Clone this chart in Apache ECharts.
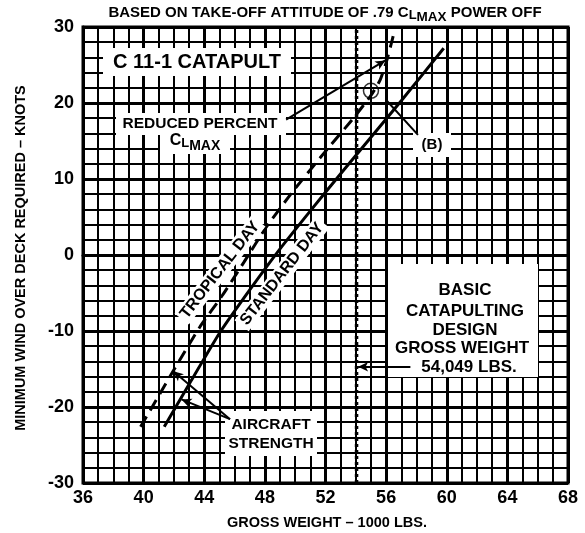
<!DOCTYPE html>
<html><head><meta charset="utf-8">
<script src="https://cdn.jsdelivr.net/npm/echarts/dist/echarts.min.js"></script>
<style>html,body{margin:0;padding:0;background:#fff}#c{width:585px;height:533px}</style>
</head><body><div id="c"></div>
<script>
// ---- data ----
const xTicks = [36, 40, 44, 48, 52, 56, 60, 64, 68];
const yTicks = [-30, -20, -10, 0, 10, 20, 30];
const tropicalDay = [[39.8,-22.6],[42,-15.1],[43.7,-9.5],[45.2,-5.3],[46.6,-1.0],[48.1,3.7],[49.9,8.5],[51.9,13.4],[53.8,17.9],[55.0,21.0],[55.6,23.0],[56.0,25.3],[56.3,27.5],[56.55,29.5]];
const standardDay = [[41.36,-22.6],[43,-17.0],[45,-10.3],[47,-4.6],[49,0.8],[51,5.8],[53,10.7],[55,15.5],[57,20.3],[59.8,27.2]];
const designGrossWeight = 54.049;
const pointB = [55.0, 21.6];
const reducedLeader = [[49.4,17.8],[55.95,25.6]];
const bLeader = [[58.1,15.8],[56.0,20.4]];
const strengthLeaderA = [[45.7,-21.6],[41.96,-15.3]];
const strengthLeaderB = [[45.7,-21.6],[42.5,-19.0]];
const designArrow = [[57.6,-14.7],[54.15,-14.7]];

const FF = '"Liberation Sans", Arial, sans-serif';
const cv = document.createElement('canvas').getContext('2d');
function tw(t, s){ cv.font = 'bold ' + s + 'px ' + FF; return cv.measureText(t).width; }
function txt(t, x, y, s, extra){
  return Object.assign({type:'text', x:x, y:y, z:5, style:{text:t, fontSize:s, fontWeight:'bold', fontFamily:FF, fill:'#000', align:'center', verticalAlign:'middle'}}, extra||{});
}
function run(pieces, cx, cy){
  const total = pieces.reduce((a,p)=>a+tw(p.t,p.s),0);
  let x = cx - total/2; const out = [];
  pieces.forEach(p=>{
    out.push({type:'text', x:x, y:cy+(p.dy||0), z:5, style:{text:p.t, fontSize:p.s, fontWeight:'bold', fontFamily:FF, fill:'#000', align:'left', verticalAlign:'middle'}});
    x += tw(p.t,p.s);
  });
  return out;
}
function rect(x,y,w,h){ return {type:'rect', z:1, shape:{x:x,y:y,width:w,height:h}, style:{fill:'#fff'}}; }
function pair(a, arrow){
  return [{coord:a[0], symbol:'none'},{coord:a[1], symbol: arrow ? 'arrow' : 'none'}];
}
function rotText(t, x, y, s, deg){
  return {type:'text', x:x, y:y, z:5, rotation: deg*Math.PI/180,
    style:{text:t, fontSize:s, fontWeight:'bold', fontFamily:FF, fill:'#000', align:'center', verticalAlign:'middle', backgroundColor:'#fff', padding:[1,3]}};
}

const chart = echarts.init(document.getElementById('c'), null, {renderer:'canvas'});
const graphics = [
  rect(103,48,188,28),
  rect(116,113,170,22),
  rect(160,132,70,22),
  rect(388,264,150,113),
  rect(413,133,38,24),
  rect(225,411,92,45),
  txt('C 11-1 CATAPULT', 197, 62, 20),
  txt('REDUCED PERCENT', 200, 124, 15.5),
  ...run([{t:'C',s:16,dy:0},{t:'L',s:13,dy:2},{t:'MAX',s:14,dy:5}], 195, 141),
  ...run([{t:'BASED ON TAKE-OFF ATTITUDE OF .79 C',s:15,dy:0},{t:'L',s:13,dy:2},{t:'MAX',s:13.5,dy:4},{t:' POWER OFF',s:15,dy:0}], 325, 13),
  rotText('TROPICAL DAY', 220, 270, 16, 52),
  rotText('STANDARD DAY', 282, 274, 16, 52),
  txt('(B)', 432, 145, 15),
  txt('AIRCRAFT', 271, 425, 15.5),
  txt('STRENGTH', 271, 444, 15.5),
  txt('BASIC', 465, 290, 17),
  txt('CATAPULTING', 465, 311, 17),
  txt('DESIGN', 465, 330, 17),
  txt('GROSS WEIGHT', 462, 348.5, 17),
  txt('54,049 LBS.', 469, 367, 17),
  txt('GROSS WEIGHT \u2013 1000 LBS.', 327, 523, 14.5),
  txt('MINIMUM WIND OVER DECK REQUIRED \u2013 KNOTS', 21, 258, 14.5, {rotation: Math.PI/2})
];

const axisCommon = {
  type:'value',
  axisLine:{show:true, lineStyle:{color:'#000', width:3}},
  axisTick:{show:false},
  splitLine:{show:true, lineStyle:{color:'#000', width:3}},
  minorSplitLine:{show:true, lineStyle:{color:'#000', width:2}}
};

chart.setOption({
  animation:false,
  backgroundColor:'#fff',
  grid:{left:83, right:17, top:27, bottom:50, show:true, borderColor:'#000', borderWidth:3},
  xAxis: Object.assign({}, axisCommon, {
    min:xTicks[0], max:xTicks[xTicks.length-1], interval:4,
    minorTick:{show:false, splitNumber:4},
    axisLabel:{fontSize:18, fontWeight:'bold', color:'#000', fontFamily:FF, margin:6,
      formatter: v => xTicks.includes(v) ? String(v) : ''}
  }),
  yAxis: Object.assign({}, axisCommon, {
    min:yTicks[0], max:yTicks[yTicks.length-1], interval:10,
    minorTick:{show:false, splitNumber:5},
    axisLabel:{fontSize:18, fontWeight:'bold', color:'#000', fontFamily:FF, margin:9,
      formatter: v => yTicks.includes(v) ? String(v) : ''}
  }),
  graphic: graphics,
  series:[
    {type:'line', name:'Tropical Day', data:tropicalDay, symbol:'none', smooth:0.15, z:3,
      lineStyle:{color:'#000', width:3, type:[12,7]}},
    {type:'line', name:'Standard Day', data:standardDay, symbol:'none', smooth:0.15, z:3,
      lineStyle:{color:'#000', width:3}},
    {type:'line', name:'Design Gross Weight', data:[[designGrossWeight, yTicks[0]],[designGrossWeight, yTicks[yTicks.length-1]]],
      symbol:'none', z:3, lineStyle:{color:'#000', width:3.5, type:[3,3], cap:'butt'},
      markLine:{silent:true, symbolSize:[7,10], z:4,
        lineStyle:{color:'#000', width:2, type:'solid'}, label:{show:false},
        data:[pair(reducedLeader,true), pair(bLeader,false), pair(strengthLeaderA,true), pair(strengthLeaderB,true), pair(designArrow,true)]}},
    {type:'scatter', name:'B', data:[pointB], symbol:'circle', symbolSize:15, z:4,
      itemStyle:{color:'rgba(0,0,0,0)', borderColor:'#000', borderWidth:1.5}}
  ]
});
</script>
</body></html>
